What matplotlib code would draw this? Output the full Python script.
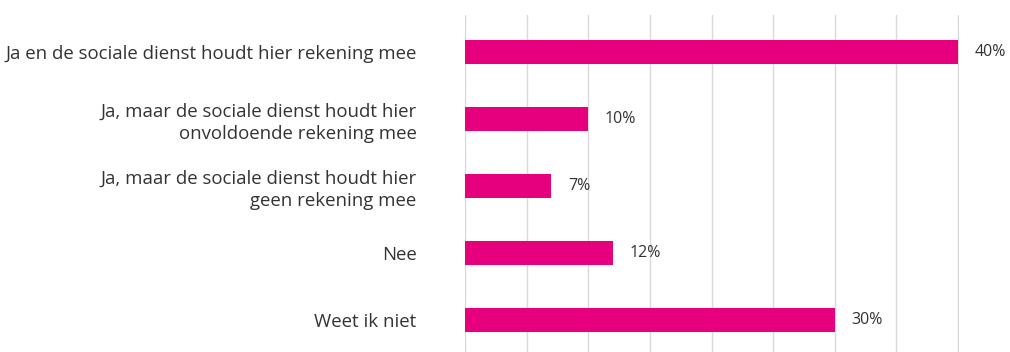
import matplotlib.pyplot as plt

categories = [
    "Ja en de sociale dienst houdt hier rekening mee",
    "Ja, maar de sociale dienst houdt hier\nonvoldoende rekening mee",
    "Ja, maar de sociale dienst houdt hier\ngeen rekening mee",
    "Nee",
    "Weet ik niet",
]
values = [40, 10, 7, 12, 30]
value_labels = ["40%", "10%", "7%", "12%", "30%"]

plt.rcParams["font.family"] = ["Open Sans", "DejaVu Sans"]

fig = plt.figure(figsize=(10.1, 3.52), dpi=100)
ax = fig.add_axes([465 / 1010, 0.0, 494 / 1010, (352 - 15) / 352])

pos = list(range(len(categories)))
ax.barh(pos, values, height=0.35, color="#E6007E", zorder=3)

for p, v, lab in zip(pos, values, value_labels):
    ax.annotate(lab, (v, p), xytext=(12, 0), textcoords="offset points",
                va="center", ha="left", fontsize=11.5, color="#333333")

ax.set_xlim(0, 40.08)
ax.set_ylim(4.48, -0.55)
ax.set_xticks(range(0, 41, 5))
ax.set_xticklabels([])
ax.set_yticks(pos)
ax.set_yticklabels(categories, fontsize=13.4, color="#333333", linespacing=1.32)
ax.tick_params(axis="both", length=0)
ax.tick_params(axis="y", pad=35)
ax.grid(axis="x", color="#d9d9d9", linewidth=1, zorder=0)
for s in ax.spines.values():
    s.set_visible(False)

fig.savefig("out.png", dpi=100)
